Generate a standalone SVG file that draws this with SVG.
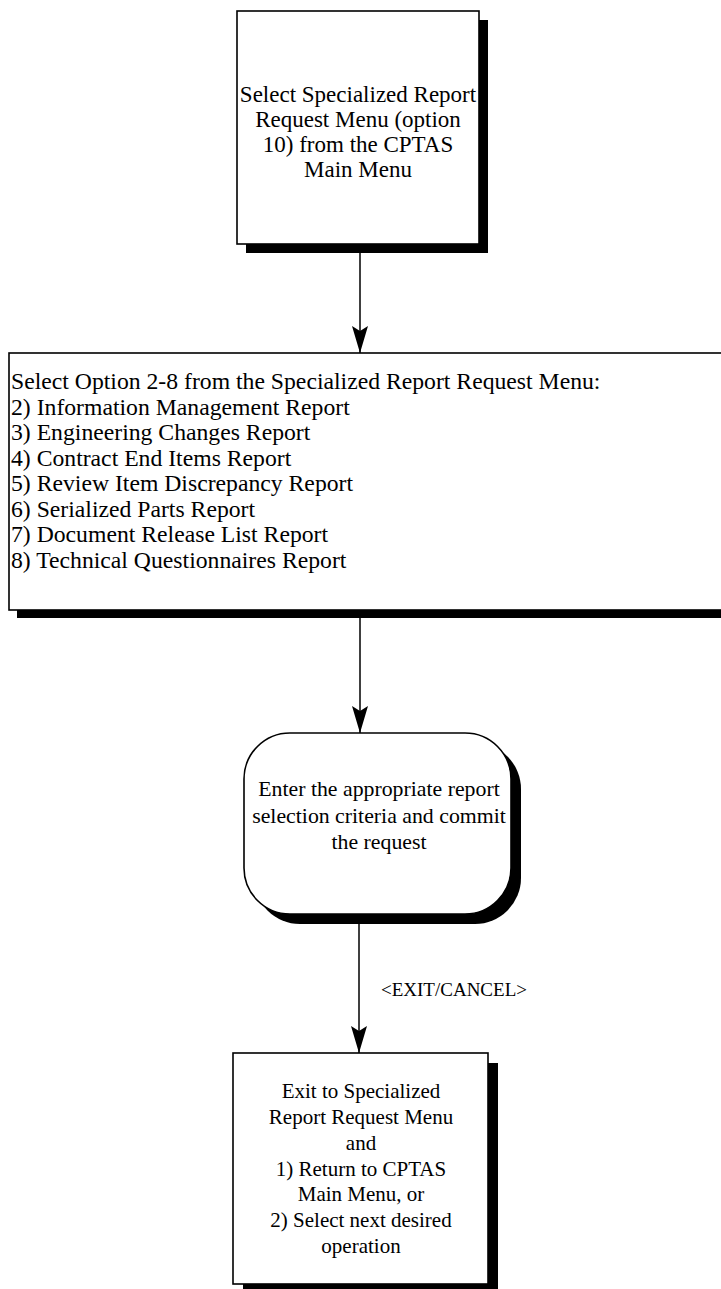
<svg xmlns="http://www.w3.org/2000/svg" width="721" height="1289" viewBox="0 0 721 1289">
  <style>
    .box { fill: #fff; stroke: #000; stroke-width: 1.6; }
    .shadow { fill: #000; }
    .txt { font-family: "Liberation Serif", "Times New Roman", serif; fill: #000; }
    .t1 { font-size: 23px; }
    .t2 { font-size: 23.7px; }
    .t3 { font-size: 21.8px; }
    .t4 { font-size: 21px; }
    .mid { text-anchor: middle; }
    .lbl { font-family: "Liberation Serif", "Times New Roman", serif; font-size: 19px; fill: #000; }
    .conn { stroke: #000; stroke-width: 1.5; fill: none; marker-end: url(#arrow); }
  </style>
  <defs>
    <!-- narrow filled arrowhead with a shallow notch -->
    <marker id="arrow" markerUnits="userSpaceOnUse" markerWidth="30" markerHeight="20" viewBox="-28 -10 30 20" refX="0" refY="0" orient="auto">
      <path d="M0,0 L-27,-8 L-22,0 L-27,8 Z" fill="#000"/>
    </marker>
  </defs>
  <rect width="721" height="1289" fill="#fff"/>

  <!-- connectors -->
  <g id="connectors">
    <line class="conn" x1="360" y1="253" x2="360" y2="353"/>
    <line class="conn" x1="360" y1="618" x2="360" y2="733"/>
    <line class="conn" x1="359" y1="924" x2="359" y2="1053"/>
    <text class="lbl" x="381" y="996">&lt;EXIT/CANCEL&gt;</text>
  </g>

  <!-- start: open the report menu -->
  <g id="node-select-menu">
    <rect class="shadow" x="246" y="20" width="242" height="233"/>
    <rect class="box" x="237" y="11" width="242" height="233"/>
    <text class="txt t1 mid" x="358" y="102">Select Specialized Report</text>
    <text class="txt t1 mid" x="358" y="127">Request Menu (option</text>
    <text class="txt t1 mid" x="358" y="152">10) from the CPTAS</text>
    <text class="txt t1 mid" x="358" y="177">Main Menu</text>
  </g>

  <!-- report options list -->
  <g id="node-options">
    <rect class="shadow" x="17" y="361" width="720" height="257"/>
    <rect class="box" x="9" y="353" width="720" height="257"/>
    <text class="txt t2" x="11" y="389">Select Option 2-8 from the Specialized Report Request Menu:</text>
    <text class="txt t2" x="11" y="414.5">2) Information Management Report</text>
    <text class="txt t2" x="11" y="440">3) Engineering Changes Report</text>
    <text class="txt t2" x="11" y="465.5">4) Contract End Items Report</text>
    <text class="txt t2" x="11" y="491">5) Review Item Discrepancy Report</text>
    <text class="txt t2" x="11" y="516.5">6) Serialized Parts Report</text>
    <text class="txt t2" x="11" y="542">7) Document Release List Report</text>
    <text class="txt t2" x="11" y="567.5">8) Technical Questionnaires Report</text>
  </g>

  <!-- criteria entry (rounded) -->
  <g id="node-criteria">
    <rect class="shadow" x="254" y="743" width="267" height="181" rx="46" ry="46"/>
    <rect class="box" x="244" y="733" width="267" height="181" rx="46" ry="46"/>
    <text class="txt t3 mid" x="379" y="796">Enter the appropriate report</text>
    <text class="txt t3 mid" x="379" y="822.5">selection criteria and commit</text>
    <text class="txt t3 mid" x="379" y="849">the request</text>
  </g>

  <!-- exit back to the menu -->
  <g id="node-exit">
    <rect class="shadow" x="243" y="1063" width="255" height="232"/>
    <rect class="box" x="233" y="1053" width="255" height="231"/>
    <text class="txt t4 mid" x="361" y="1098">Exit to Specialized</text>
    <text class="txt t4 mid" x="361" y="1124">Report Request Menu</text>
    <text class="txt t4 mid" x="361" y="1150">and</text>
    <text class="txt t4 mid" x="361" y="1176">1) Return to CPTAS</text>
    <text class="txt t4 mid" x="361" y="1201">Main Menu, or</text>
    <text class="txt t4 mid" x="361" y="1227">2) Select next desired</text>
    <text class="txt t4 mid" x="361" y="1253">operation</text>
  </g>
</svg>
